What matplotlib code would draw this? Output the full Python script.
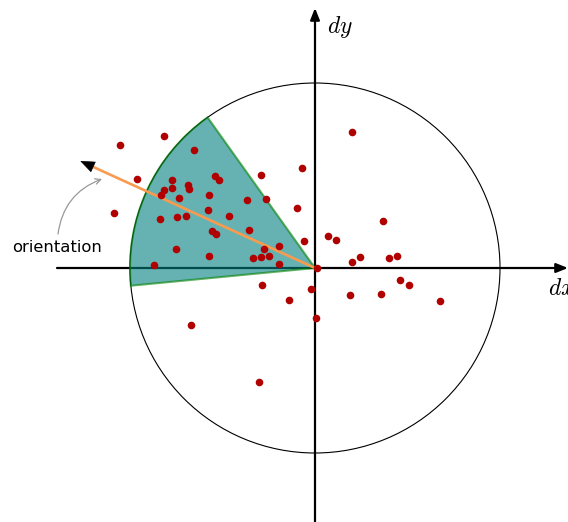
import numpy as np
import matplotlib.pyplot as plt
from matplotlib.patches import Circle, Wedge

plt.rcParams['mathtext.fontset'] = 'cm'

# displacement samples (dx, dy) around the keypoint
dx = [-151, -195, -121, -178, -143, -151, -143, -127, -126, -154,
      -136, -100, -96, -106, -54, -13, -68, -49, -201, -107,
      -18, -155, -138, -129, -86, -66, -103, -99, -11, -36,
      -51, -139, -106, -62, -54, -46, -36, -161, 2, -53,
      -4, -26, 37, 68, 13, 21, 37, 45, 74, 82,
      85, 94, 35, 66, 125, 1, -124, -56]
dy = [132, 123, 118, 89, 88, 78, 80, 83, 79, 73,
      70, 92, 88, 73, 93, 100, 68, 69, 55, 58,
      60, 49, 51, 52, 52, 38, 37, 34, 27, 22,
      19, 19, 12, 10, 11, 12, 4, 3, 0, -17,
      -21, -32, 136, 47, 32, 28, 6, 11, 10, 12,
      -12, -17, -27, -26, -33, -50, -57, -114]

radius = 185
orientation = 155.5   # degrees
half_width = 30       # half opening of the sector
arrow_len = 258

fig = plt.figure(figsize=(5.68, 5.22), dpi=100)
ax = fig.add_axes([0, 0, 1, 1])
ax.set_xlim(-315, 253)
ax.set_ylim(-254, 268)
ax.axis('off')

# coordinate axes
ax.annotate('', xy=(253, 0), xytext=(-258, 0),
            arrowprops=dict(arrowstyle='-|>,head_length=7,head_width=2.8',
                            mutation_scale=1, lw=1.6, color='black',
                            shrinkA=0, shrinkB=0), zorder=1)
ax.annotate('', xy=(0, 260), xytext=(0, -254),
            arrowprops=dict(arrowstyle='-|>,head_length=7,head_width=2.8',
                            mutation_scale=1, lw=1.6, color='black',
                            shrinkA=0, shrinkB=0), zorder=1)
ax.text(25, 241, '$dy$', fontsize=17, ha='center', va='center')
ax.text(233, -20, '$dx$', fontsize=17, ha='left', va='center')

ax.add_patch(Circle((0, 0), radius, fill=False, ec='black', lw=0.8, zorder=1))

# orientation sector
ax.add_patch(Wedge((0, 0), radius, orientation - half_width, orientation + half_width,
                   facecolor='teal', edgecolor='green', alpha=0.6, lw=1.5, zorder=2))

# orientation arrow: orange shaft, black head
th = np.deg2rad(orientation)
tip = (arrow_len * np.cos(th), arrow_len * np.sin(th))
head = 12
base = ((arrow_len - head) * np.cos(th), (arrow_len - head) * np.sin(th))
ax.plot([0, base[0]], [0, base[1]], color='#f99a4e', lw=1.9, zorder=3)
ax.annotate('', xy=tip, xytext=base,
            arrowprops=dict(arrowstyle='-|>,head_length=9.5,head_width=3.8',
                            mutation_scale=1, lw=0.5, color='black',
                            shrinkA=0, shrinkB=0), zorder=4)

ax.scatter(dx, dy, s=30, color='#b00000', zorder=5, linewidths=0)

ax.text(-258, 21, 'orientation', fontsize=11.8, ha='center', va='center')
ax.annotate('', xy=(-213, 89), xytext=(-257, 34),
            arrowprops=dict(arrowstyle='->,head_length=4,head_width=2', mutation_scale=1,
                            color='#999999', lw=0.9,
                            connectionstyle='arc3,rad=-0.3',
                            shrinkA=0, shrinkB=0))

fig.savefig('out.png', dpi=100)
